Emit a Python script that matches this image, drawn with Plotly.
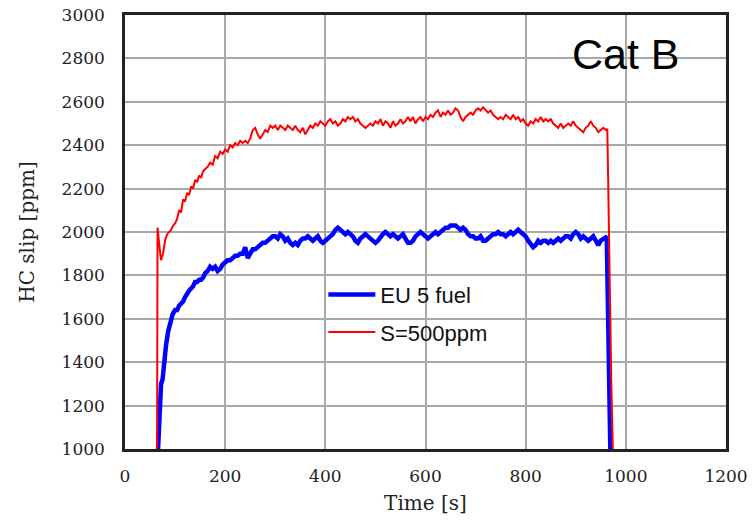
import plotly.graph_objects as go

# EU 5 fuel (blue) : time [s], HC slip [ppm]
eu5_t = [66, 68, 70, 72, 75, 78, 82, 86, 90, 95, 100, 104, 108, 112, 116, 120, 124, 128, 132, 136,
         140, 144, 148, 152, 156, 160, 165, 170, 175, 180, 185, 190, 195, 200, 205, 210, 215, 220, 225, 230,
         235, 240, 245, 250, 255, 260, 265, 270, 275, 280, 285, 290, 295, 300, 305, 310, 315, 320, 325, 330,
         335, 340, 345, 350, 355, 360, 365, 370, 375, 380, 385, 390, 395, 400, 405, 410, 415, 420, 425, 430,
         435, 440, 445, 450, 455, 460, 465, 470, 475, 480, 485, 490, 495, 500, 505, 510, 515, 520, 525, 530,
         535, 540, 545, 550, 555, 560, 565, 570, 575, 580, 585, 590, 595, 600, 605, 610, 615, 620, 625, 630,
         635, 640, 645, 650, 655, 660, 665, 670, 675, 680, 685, 690, 695, 700, 705, 710, 715, 720, 725, 730,
         735, 740, 745, 750, 755, 760, 765, 770, 775, 780, 785, 790, 795, 800, 805, 810, 815, 820, 825, 830,
         835, 840, 845, 850, 855, 860, 865, 870, 875, 880, 885, 890, 895, 900, 905, 910, 915, 920, 925, 930,
         935, 940, 945, 950, 955, 960, 962, 964, 966, 969]
eu5_v = [1000, 1150, 1250, 1300, 1320, 1400, 1480, 1540, 1580, 1620, 1640, 1640, 1660, 1670, 1680, 1700, 1720, 1730, 1740, 1750,
         1770, 1770, 1780, 1780, 1790, 1810, 1820, 1840, 1830, 1840, 1820, 1830, 1850, 1860, 1870, 1870, 1880, 1890, 1890, 1900,
         1900, 1930, 1880, 1900, 1920, 1920, 1930, 1940, 1950, 1950, 1960, 1970, 1980, 1980, 1970, 1990, 1980, 1960, 1970, 1950,
         1940, 1950, 1940, 1960, 1970, 1970, 1980, 1970, 1960, 1970, 1980, 1960, 1950, 1960, 1970, 1980, 1990, 2010, 2020, 2010,
         2000, 1990, 2000, 1990, 1980, 1960, 1950, 1970, 1980, 1990, 1980, 1970, 1960, 1950, 1960, 1980, 1990, 2000, 1990, 1980,
         1990, 1980, 1970, 1980, 1990, 1970, 1950, 1950, 1960, 1980, 1990, 2000, 1990, 1980, 1970, 1980, 1990, 2000, 1990, 2000,
         2010, 2020, 2020, 2030, 2030, 2030, 2020, 2010, 2020, 2010, 1990, 1980, 1980, 1970, 1970, 1980, 1960, 1960, 1970, 1980,
         1990, 1990, 2000, 1990, 1990, 1980, 1990, 2000, 1990, 2000, 2010, 2000, 1990, 1980, 1960, 1940, 1930, 1940, 1960, 1950,
         1960, 1960, 1950, 1960, 1950, 1960, 1970, 1960, 1970, 1980, 1980, 1970, 1990, 2000, 1990, 1970, 1980, 1970, 1960, 1970,
         1980, 1960, 1940, 1960, 1970, 1975, 1970, 1600, 1300, 1000]

# S=500ppm (red)
s500_t = [64, 65, 68, 72, 76, 80, 84, 88, 92, 96, 100, 104, 108, 112, 116, 120, 124, 128, 132, 136,
          140, 144, 148, 152, 156, 160, 165, 170, 175, 180, 185, 190, 195, 200, 205, 210, 215, 220, 225, 230,
          235, 240, 245, 250, 255, 260, 265, 270, 275, 280, 285, 290, 295, 300, 305, 310, 315, 320, 325, 330,
          335, 340, 345, 350, 355, 360, 365, 370, 375, 380, 385, 390, 395, 400, 405, 410, 415, 420, 425, 430,
          435, 440, 445, 450, 455, 460, 465, 470, 475, 480, 485, 490, 495, 500, 505, 510, 515, 520, 525, 530,
          535, 540, 545, 550, 555, 560, 565, 570, 575, 580, 585, 590, 595, 600, 605, 610, 615, 620, 625, 630,
          635, 640, 645, 650, 655, 660, 665, 670, 675, 680, 685, 690, 695, 700, 705, 710, 715, 720, 725, 730,
          735, 740, 745, 750, 755, 760, 765, 770, 775, 780, 785, 790, 795, 800, 805, 810, 815, 820, 825, 830,
          835, 840, 845, 850, 855, 860, 865, 870, 875, 880, 885, 890, 895, 900, 905, 910, 915, 920, 925, 930,
          935, 940, 945, 950, 955, 960, 963, 965, 968, 971, 974]
s500_v = [1000, 2020, 1950, 1870, 1900, 1960, 1990, 2000, 2010, 2030, 2040, 2060, 2100, 2090, 2150, 2140, 2180, 2170, 2210, 2200,
          2240, 2230, 2260, 2250, 2280, 2290, 2300, 2320, 2310, 2350, 2340, 2370, 2360, 2380, 2370, 2400, 2390, 2410, 2400, 2420,
          2410, 2420, 2410, 2430, 2470, 2480, 2450, 2430, 2450, 2470, 2460, 2490, 2480, 2490, 2470, 2490, 2480, 2470, 2490, 2480,
          2470, 2490, 2470, 2460, 2480, 2450, 2470, 2490, 2480, 2500, 2490, 2510, 2500, 2490, 2510, 2520, 2500, 2510, 2490, 2500,
          2520, 2510, 2530, 2520, 2530, 2510, 2520, 2500, 2490, 2480, 2490, 2500, 2490, 2510, 2500, 2520, 2490, 2510, 2500, 2480,
          2510, 2490, 2500, 2520, 2500, 2510, 2530, 2510, 2530, 2500, 2520, 2530, 2510, 2530, 2520, 2540, 2530, 2550, 2560, 2530,
          2550, 2540, 2560, 2540, 2550, 2570, 2560, 2530, 2510, 2530, 2540, 2550, 2540, 2560, 2570, 2560, 2575, 2560, 2550, 2560,
          2540, 2530, 2520, 2530, 2520, 2540, 2530, 2520, 2540, 2520, 2530, 2510, 2520, 2500, 2490, 2510, 2500, 2520, 2510, 2530,
          2510, 2520, 2510, 2520, 2500, 2490, 2480, 2500, 2480, 2490, 2500, 2490, 2510, 2490, 2480, 2470, 2460, 2480, 2490, 2510,
          2490, 2480, 2460, 2470, 2480, 2470, 2475, 2200, 1700, 1300, 1000]

x_ticks = [0, 200, 400, 600, 800, 1000, 1200]
y_ticks = [1000, 1200, 1400, 1600, 1800, 2000, 2200, 2400, 2600, 2800, 3000]

fig = go.Figure()
fig.add_trace(go.Scatter(x=eu5_t, y=eu5_v, mode="lines", name="EU 5 fuel", legendgroup="eu5",
                         line=dict(color="#0000ff", width=4.5)))
fig.add_trace(go.Scatter(x=s500_t, y=s500_v, mode="lines", name="S=500ppm", legendgroup="s500",
                         line=dict(color="#ff0000", width=2)))

tickfont = dict(family="DejaVu Serif", size=17, color="#222")
titlefont = dict(family="DejaVu Serif", size=20, color="#222")

fig.update_layout(
    width=752, height=520,
    margin=dict(l=125, r=26, t=15, b=71),
    paper_bgcolor="white", plot_bgcolor="white",
    showlegend=True,
    legend=dict(x=0.33, y=0.404, xanchor="left", yanchor="top",
                bgcolor="rgba(0,0,0,0)", borderwidth=0,
                font=dict(family="Liberation Sans", size=22, color="#111"),
                itemwidth=47, tracegroupgap=6),
    annotations=[dict(text="Cat B", xref="paper", yref="paper", x=0.834, y=0.91,
                      xanchor="center", yanchor="middle", showarrow=False,
                      font=dict(family="Liberation Sans", size=43, color="black"))],
)
fig.update_xaxes(range=[0, 1200], tickvals=x_ticks, ticktext=[str(v) for v in x_ticks],
                 showgrid=True, gridcolor="#a8a8a8", gridwidth=1.5,
                 showline=True, linecolor="#222", linewidth=2.5, mirror=True,
                 ticks="", ticklabelstandoff=10, tickfont=tickfont, automargin=False,
                 title=dict(text="Time [s]", font=titlefont, standoff=11), zeroline=False)
fig.update_yaxes(range=[1000, 3000], tickvals=y_ticks, ticktext=[str(v) for v in y_ticks],
                 showgrid=True, gridcolor="#a8a8a8", gridwidth=1.5,
                 showline=True, linecolor="#222", linewidth=2.5, mirror=True,
                 ticks="", ticklabelstandoff=14, tickfont=tickfont, automargin=False,
                 title=dict(text="HC slip [ppm]", font=titlefont, standoff=22), zeroline=False)

fig.write_html("out.html")
